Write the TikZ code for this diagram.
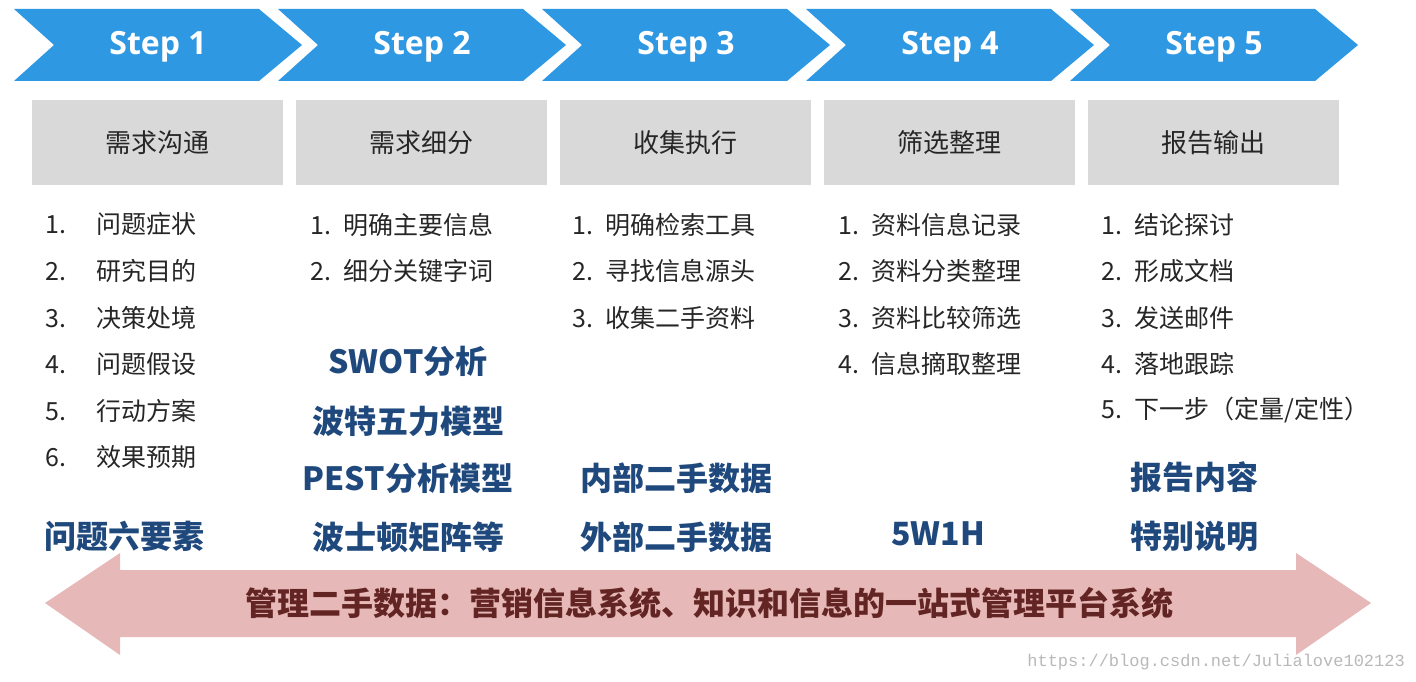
\documentclass[tikz,border=0pt]{standalone}
\usepackage{fontspec}
\setmainfont{Noto Sans CJK SC}
\newfontfamily\stepfont{Open Sans}
\newfontfamily\wmfont{Liberation Mono}

\definecolor{stepblue}{RGB}{47,152,226}
\definecolor{boxgray}{RGB}{217,217,217}
\definecolor{itemtxt}{RGB}{38,38,38}
\definecolor{keyblue}{RGB}{31,73,125}
\definecolor{bandpink}{RGB}{230,184,183}
\definecolor{bandtxt}{RGB}{99,37,35}

\begin{document}
\begin{tikzpicture}[
  x=1pt, y=-1pt,
  steplbl/.style={anchor=base, inner sep=0, text=white, font=\stepfont\bfseries\fontsize{32}{36}\selectfont},
  phase/.style={fill=boxgray, minimum width=251pt, minimum height=85pt, inner sep=0,
    text=itemtxt, font=\fontsize{26}{30}\selectfont},
  item/.style={anchor=west, inner sep=0, text=itemtxt, font=\fontsize{25}{30}\selectfont},
  key/.style={inner sep=0, text=keyblue, font=\bfseries\fontsize{32}{36}\selectfont},
  band/.style={inner sep=0, text=bandtxt, font=\bfseries\fontsize{32}{36}\selectfont}
]
\useasboundingbox (0,0) rectangle (1416,682);

% step chevrons
\foreach \i in {1,...,5}{
  \pgfmathsetmacro\xl{14+264*(\i-1)}
  \fill[stepblue] (\xl,9) -- ++(245,0) -- ++(43,36) -- ++(-43,36) -- ++(-245,0) -- ++(40,-36) -- cycle;
  \node[steplbl] (step\i) at (\xl+144,55) {Step \i};
}

% phase boxes
\node[phase] (ph1) at (157.5,142.5) {需求沟通};
\node[phase] (ph2) at (421.5,142.5) {需求细分};
\node[phase] (ph3) at (685.5,142.5) {收集执行};
\node[phase] (ph4) at (949.5,142.5) {筛选整理};
\node[phase] (ph5) at (1213.5,142.5) {报告输出};

% numbered lists
\foreach \t [count=\i] in {问题症状,研究目的,决策处境,问题假设,行动方案,效果预期}
  \node[item] (a\i) at (45,{224.5+46.5*(\i-1)}) {\makebox[51pt][l]{\i.}\t};
\foreach \t [count=\i] in {明确主要信息,细分关键字词}
  \node[item] (b\i) at (310,{224.5+46.5*(\i-1)}) {\makebox[33pt][l]{\i.}\t};
\foreach \t [count=\i] in {明确检索工具,寻找信息源头,收集二手资料}
  \node[item] (c\i) at (572,{224.5+46.5*(\i-1)}) {\makebox[33pt][l]{\i.}\t};
\foreach \t [count=\i] in {资料信息记录,资料分类整理,资料比较筛选,信息摘取整理}
  \node[item] (d\i) at (838,{224.5+46.5*(\i-1)}) {\makebox[33pt][l]{\i.}\t};
\foreach \t [count=\i] in {结论探讨,形成文档,发送邮件,落地跟踪,下一步（定量/定性）}
  \node[item] (e\i) at (1101,{224.5+46.5*(\i-1)}) {\makebox[33pt][l]{\i.}\t};

% key words
\node[key] (six)    at (124,536) {问题六要素};
\node[key] (swot)   at (408,361) {SWOT分析};
\node[key] (porter) at (408,421) {波特五力模型};
\node[key] (pest)   at (408,478) {PEST分析模型};
\node[key] (bcg)    at (408,537) {波士顿矩阵等};
\node[key] (inner)  at (676,478) {内部二手数据};
\node[key] (outer)  at (676,537) {外部二手数据};
\node[key] (fivew)  at (938,534) {5W1H};
\node[key] (rcont)  at (1194,477) {报告内容};
\node[key] (rnote)  at (1194,536) {特别说明};

% management band
\fill[bandpink] (45,603) -- (120,553) -- (120,570) -- (1296,570) -- (1296,553) -- (1371,603)
  -- (1296,655) -- (1296,637) -- (120,637) -- (120,655) -- cycle;
\node[band] (mgmt) at (709,603) {管理二手数据：营销信息系统、知识和信息的一站式管理平台系统};

\node[anchor=east, inner sep=0, text=black!28, font=\wmfont\fontsize{17}{20}\selectfont] (wm)
  at (1405,662) {https://blog.csdn.net/Julialove102123};
\end{tikzpicture}
\end{document}
